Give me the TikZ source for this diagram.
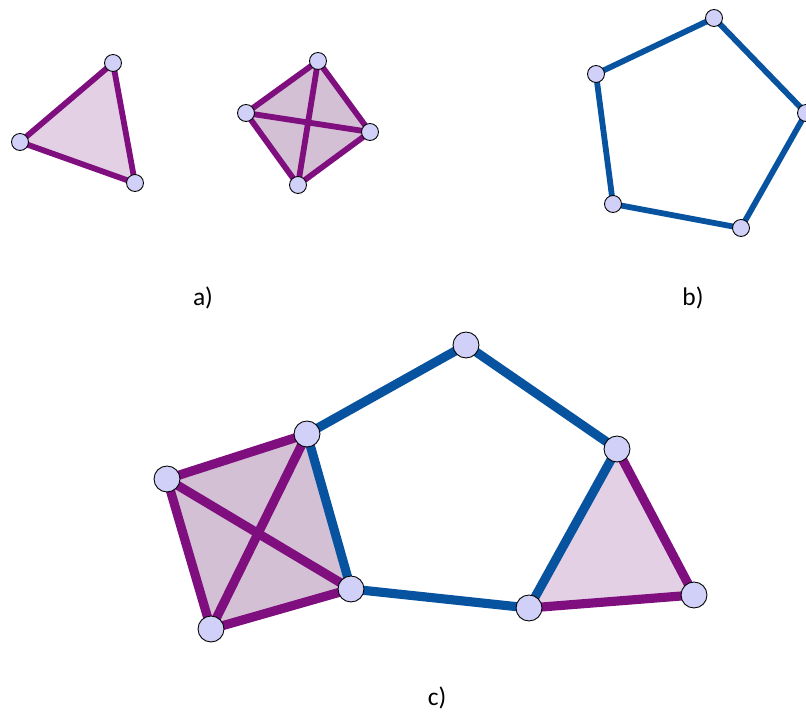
\documentclass[tikz,border=0pt]{standalone}
\usepackage{fontspec}
\setmainfont{Carlito}
\usepackage{tikz}
\usetikzlibrary{backgrounds}

\definecolor{edgepurple}{HTML}{7F0F7E}
\definecolor{edgeblue}{HTML}{0753A0}
\definecolor{vertfill}{HTML}{D0D0F8}
\definecolor{trifill}{HTML}{E3D0E5}
\definecolor{tetfill}{HTML}{D4C0D4}

\begin{document}
\begin{tikzpicture}[
  x=0.02cm, y=-0.02cm,
  font=\fontsize{14.5}{17}\selectfont,
  vert/.style={circle, draw=black, line width=0.5pt, fill=vertfill, inner sep=0pt},
  vs/.style={vert, minimum size=0.34cm},
  vl/.style={vert, minimum size=0.52cm},
  pe/.style={edgepurple, line width=3.3pt},
  be/.style={edgeblue, line width=3.3pt},
  pel/.style={edgepurple, line width=5.2pt},
  bel/.style={edgeblue, line width=5.2pt},
  lab/.style={inner sep=0pt},
]
  \useasboundingbox (0,0) rectangle (806,716);

  % a) triangle and tetrahedron
  \node[vs] (a1) at (113,63) {};
  \node[vs] (a2) at (20,142) {};
  \node[vs] (a3) at (135,183) {};
  \node[vs] (t1) at (318,61) {};
  \node[vs] (t2) at (246,113) {};
  \node[vs] (t3) at (370,132) {};
  \node[vs] (t4) at (298,185) {};

  % b) pentagon
  \node[vs] (p1) at (714,18) {};
  \node[vs] (p2) at (596,74) {};
  \node[vs] (p3) at (806,113) {};
  \node[vs] (p4) at (741,228) {};
  \node[vs] (p5) at (613,204) {};

  % c) combined
  \node[vl] (c1) at (307,434) {};
  \node[vl] (c2) at (167,479) {};
  \node[vl] (c3) at (351,589) {};
  \node[vl] (c4) at (211,629) {};
  \node[vl] (c5) at (466,345) {};
  \node[vl] (c6) at (617,449) {};
  \node[vl] (c7) at (529,608) {};
  \node[vl] (c8) at (694,595) {};

  \node[lab] (la) at (203,298) {a)};
  \node[lab] (lb) at (693,298) {b)};
  \node[lab] (lc) at (437,698) {c)};

  \begin{scope}[on background layer]
    \fill[trifill] (a1.center) -- (a2.center) -- (a3.center) -- cycle;
    \fill[tetfill] (t1.center) -- (t2.center) -- (t4.center) -- (t3.center) -- cycle;
    \fill[tetfill] (c1.center) -- (c2.center) -- (c4.center) -- (c3.center) -- cycle;
    \fill[trifill] (c6.center) -- (c8.center) -- (c7.center) -- cycle;

    \draw[pe] (a1.center) -- (a2.center) -- (a3.center) -- cycle;
    \foreach \u/\v in {t1/t2, t1/t3, t1/t4, t2/t3, t2/t4, t3/t4}
      \draw[pe] (\u.center) -- (\v.center);

    \draw[be] (p1.center) -- (p2.center) -- (p5.center) -- (p4.center) -- (p3.center) -- cycle;

    \foreach \u/\v in {c1/c2, c1/c4, c2/c3, c2/c4, c3/c4, c6/c8, c8/c7}
      \draw[pel] (\u.center) -- (\v.center);
    \draw[bel] (c1.center) -- (c5.center) -- (c6.center) -- (c7.center) -- (c3.center) -- cycle;
  \end{scope}
\end{tikzpicture}
\end{document}
